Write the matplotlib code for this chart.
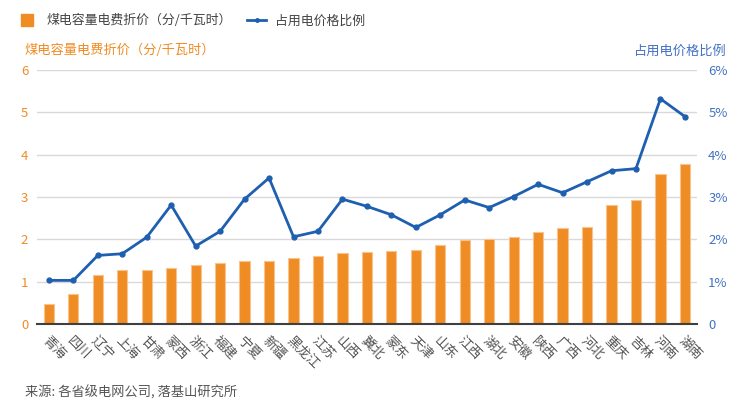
import numpy as np
import matplotlib.pyplot as plt
from matplotlib.lines import Line2D

plt.rcParams['font.family'] = ['Noto Sans CJK SC', 'DejaVu Sans']

provinces = ["青海", "四川", "辽宁", "上海", "甘肃", "蒙西", "浙江", "福建", "宁夏", "新疆",
             "黑龙江", "江苏", "山西", "冀北", "蒙东", "天津", "山东", "江西", "湖北", "安徽",
             "陕西", "广西", "河北", "重庆", "吉林", "河南", "湖南"]
discount = [0.47, 0.70, 1.16, 1.28, 1.28, 1.32, 1.39, 1.43, 1.49, 1.49,
            1.55, 1.61, 1.67, 1.71, 1.73, 1.75, 1.87, 1.99, 2.00, 2.05,
            2.18, 2.26, 2.30, 2.81, 2.93, 3.55, 3.78]
share = [1.03, 1.03, 1.62, 1.66, 2.05, 2.81, 1.84, 2.19, 2.95, 3.45,
         2.06, 2.19, 2.95, 2.78, 2.58, 2.28, 2.58, 2.93, 2.75, 3.01,
         3.30, 3.10, 3.36, 3.62, 3.67, 5.32, 4.90]
left_ticks = [0, 1, 2, 3, 4, 5, 6]
right_labels = ["0", "1%", "2%", "3%", "4%", "5%", "6%"]

orange = '#F08C24'
blue = '#1E5FAF'
lblue = '#4472C4'
gray = '#555555'

fig = plt.figure(figsize=(7.48, 4), dpi=100)
ax1 = fig.add_axes([0.049, 0.19, 0.883, 0.635])
x = np.arange(len(provinces))

ax1.bar(x, discount, width=0.42, color=orange, edgecolor='#F8C48E', linewidth=0.8, zorder=2)
ax1.set_ylim(0, 6)
ax1.set_xlim(-0.5, len(provinces) - 0.5)
ax1.set_yticks(left_ticks)
ax1.set_yticklabels([str(t) for t in left_ticks], color=orange, fontsize=9.5)
ax1.yaxis.grid(True, color='#D9D9D9', linewidth=1, zorder=0)
ax1.set_axisbelow(True)
ax1.set_xticks(x)
ax1.set_xticklabels(provinces, rotation=-45, ha='left', va='top', rotation_mode='anchor',
                    fontsize=9.5, color=gray)
ax1.tick_params(axis='x', length=0, pad=7)
ax1.tick_params(axis='y', length=0, pad=6)
for s in ['top', 'right', 'left']:
    ax1.spines[s].set_visible(False)
ax1.spines['bottom'].set_color('#404040')
ax1.spines['bottom'].set_linewidth(1.5)

ax2 = ax1.twinx()
ax2.plot(x, share, color=blue, linewidth=2, marker='o', markersize=3.5, zorder=3)
ax2.set_ylim(0, 6)
ax2.set_yticks(left_ticks)
ax2.set_yticklabels(right_labels, color=lblue, fontsize=9.5)
ax2.tick_params(axis='y', length=0, pad=8)
for s in ['top', 'right', 'left', 'bottom']:
    ax2.spines[s].set_visible(False)

fig.text(0.033, 0.873, '煤电容量电费折价（分/千瓦时）', color=orange, fontsize=9.5, ha='left', va='center')
fig.text(0.972, 0.873, '占用电价格比例', color=lblue, fontsize=9.5, ha='right', va='center')

handles = [Line2D([], [], marker='s', color=orange, linestyle='none', markersize=8),
           Line2D([], [], marker='o', color=blue, linewidth=2, markersize=2.5)]
fig.legend(handles, ['煤电容量电费折价（分/千瓦时）', '占用电价格比例'], loc='center left',
           bbox_to_anchor=(0.008, 0.948), ncol=2, frameon=False, fontsize=9.3,
           handlelength=1.5, handletextpad=0.7, columnspacing=1.2, labelcolor='#444444')

fig.text(0.033, 0.0175, '来源: 各省级电网公司, 落基山研究所', color=gray, fontsize=9.5, ha='left', va='center')

fig.savefig('out.png', dpi=100)
